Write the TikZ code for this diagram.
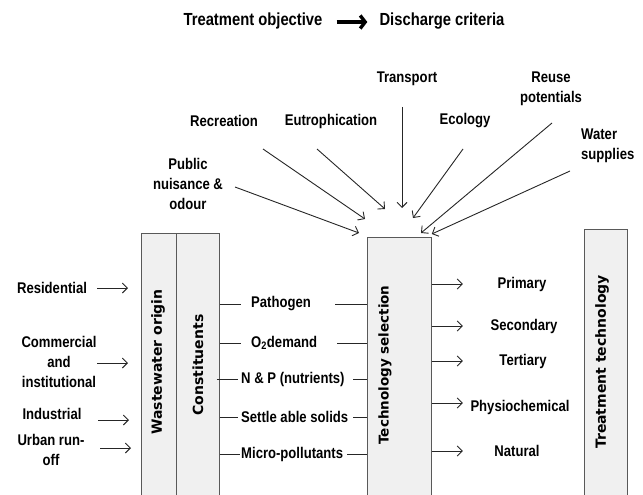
\documentclass[tikz,border=0pt]{standalone}
\usepackage{fontspec}
\setmainfont{Liberation Sans}
\newfontfamily\narrowfont{Liberation Sans}[FakeStretch=0.845]
\newfontfamily\widefont{DejaVu Sans}
\usetikzlibrary{arrows.meta,calc}

\begin{document}
\begin{tikzpicture}[x=1pt, y=-1pt,
    lbl/.style={font=\narrowfont\bfseries\fontsize{15.5}{20}\selectfont, align=center, inner sep=1pt},
    box/.style={draw=black!65, fill=black!6, line width=0.8pt, inner sep=0pt},
    vtxt/.style={rotate=90, font=\widefont\bfseries\fontsize{14}{16}\selectfont, inner sep=1pt},
    arr/.style={-{Straight Barb[length=5pt,width=10pt]}, line width=0.9pt, black!85},
    tick/.style={line width=0.9pt, black!85}]
\useasboundingbox (0,0) rectangle (643,495);
\clip (0,0) rectangle (643,495);

% Title line
\node[lbl, font=\narrowfont\bfseries\fontsize{17.5}{20}\selectfont] (tobj) at (253,21) {Treatment objective};
\node[lbl, font=\narrowfont\bfseries\fontsize{17.5}{20}\selectfont] (disc) at (442,21) {Discharge criteria};
\draw[line width=3.4pt, -{Straight Barb[length=5pt,width=13pt]}] ($(tobj.east)+(13,1)$) -- ($(disc.west)+(-11,1)$);

% Columns
\node[box, anchor=north west, minimum width=35, minimum height=275] (origin) at (141,233) {};
\node[box, anchor=north west, minimum width=43, minimum height=275] (constit) at (176,233) {};
\node[box, anchor=north west, minimum width=64, minimum height=275] (techsel) at (367,237) {};
\node[box, anchor=north west, minimum width=43, minimum height=275] (treat) at (584,229) {};

\node[vtxt] (origintxt) at (158,362) {Wastewater origin};
\node[vtxt] (constittxt) at (198,365) {Constituents};
\node[vtxt, font=\widefont\bfseries\fontsize{13.5}{15}\selectfont] (techseltxt) at (385,365) {Technology selection};
\node[vtxt] (treattxt) at (602,362) {Treatment technology};

% Wastewater origin inputs
\node[lbl] (res) at (52,288) {Residential};
\node[lbl] (com) at (59,362) {Commercial\\and\\institutional};
\node[lbl] (ind) at (52,414) {Industrial};
\node[lbl] (urb) at (51,450) {Urban run-\\off};

\draw[arr] ($(origin.west |- res.east)+(-44,0)$) -- ($(origin.west |- res.east)+(-13,0)$);
\draw[arr] ($(origin.west |- com.east)+(-44,1)$) -- ($(origin.west |- com.east)+(-13,1)$);
\draw[arr] ($(origin.west |- ind.east)+(-43,6)$) -- ($(origin.west |- ind.east)+(-12,6)$);
\draw[arr] ($(origin.west |- urb.east)+(-41,-2)$) -- ($(origin.west |- urb.east)+(-10,-2)$);

% Constituents
\node[lbl, anchor=west] (path) at (250,304) {Pathogen};
\node[lbl, anchor=west] (oxy) at (250,343) {O\textsubscript{2}demand};
\node[lbl, anchor=west] (nutr) at (240,379) {N \& P (nutrients)};
\node[lbl, anchor=west] (solid) at (240,417) {Settle able solids};
\node[lbl, anchor=west] (micro) at (240,454) {Micro-pollutants};

\draw[tick] (constit.east |- path.west) -- ++(21,0);
\draw[tick] ($(techsel.west |- path.east)+(-32,0)$) -- (techsel.west |- path.east);
\draw[tick] (constit.east |- oxy.west) -- ++(21,0);
\draw[tick] ($(techsel.west |- oxy.east)+(-30,0)$) -- (techsel.west |- oxy.east);
\draw[tick] ($(constit.east |- nutr.west)+(-3,0)$) -- ++(21,0);
\draw[tick] ($(techsel.west |- nutr.east)+(-14,0)$) -- (techsel.west |- nutr.east);
\draw[tick] (constit.east |- solid.west) -- ++(18,0);
\draw[tick] ($(techsel.west |- solid.east)+(-14,0)$) -- (techsel.west |- solid.east);
\draw[tick] (constit.east |- micro.west) -- (micro.west);
\draw[tick] ($(techsel.west |- micro.east)+(-20,0)$) -- (techsel.west |- micro.east);

% Treatment technology outputs
\node[lbl] (prim) at (522,284) {Primary};
\node[lbl] (sec) at (524,326) {Secondary};
\node[lbl] (tert) at (523,361) {Tertiary};
\node[lbl] (phys) at (520,407) {Physiochemical};
\node[lbl] (nat) at (517,451) {Natural};

\draw[arr] (techsel.east |- prim) -- ++(31,0);
\draw[arr] (techsel.east |- sec) -- ++(31,0);
\draw[arr] (techsel.east |- tert) -- ++(31,0);
\draw[arr] ($(techsel.east |- phys)+(0,-4)$) -- ++(31,0);
\draw[arr] (techsel.east |- nat) -- ++(31,0);

% Discharge criteria
\node[lbl] (trans) at (407,79) {Transport};
\node[lbl] (recr) at (224,121) {Recreation};
\node[lbl] (eutr) at (331,121) {Eutrophication};
\node[lbl] (pub) at (188,184) {Public\\nuisance \&\\odour};
\node[lbl] (eco) at (465,121) {Ecology};
\node[lbl] (reuse) at (551,89) {Reuse\\potentials};
\node[lbl, align=left, anchor=west] (water) at (580,146) {Water\\supplies};

\draw[arr] ($(trans.center)+(-5,28)$) -- ($(techsel.north west)+(35,-29)$);
\draw[arr] ($(recr.center)+(39,28)$) -- ($(techsel.north west)+(-2,-18)$);
\draw[arr] ($(eutr.center)+(-14,28)$) -- ($(techsel.north west)+(18,-28)$);
\draw[arr] ($(pub.center)+(47,3)$) -- ($(techsel.north west)+(-8,-4)$);
\draw[arr] ($(eco.center)+(-2,28)$) -- ($(techsel.north west)+(46,-19)$);
\draw[arr] ($(reuse.center)+(1,34)$) -- ($(techsel.north west)+(54,-4)$);
\draw[arr] ($(water.west)+(-10,25)$) -- ($(techsel.north east)+(0,-3)$);
\end{tikzpicture}
\end{document}
